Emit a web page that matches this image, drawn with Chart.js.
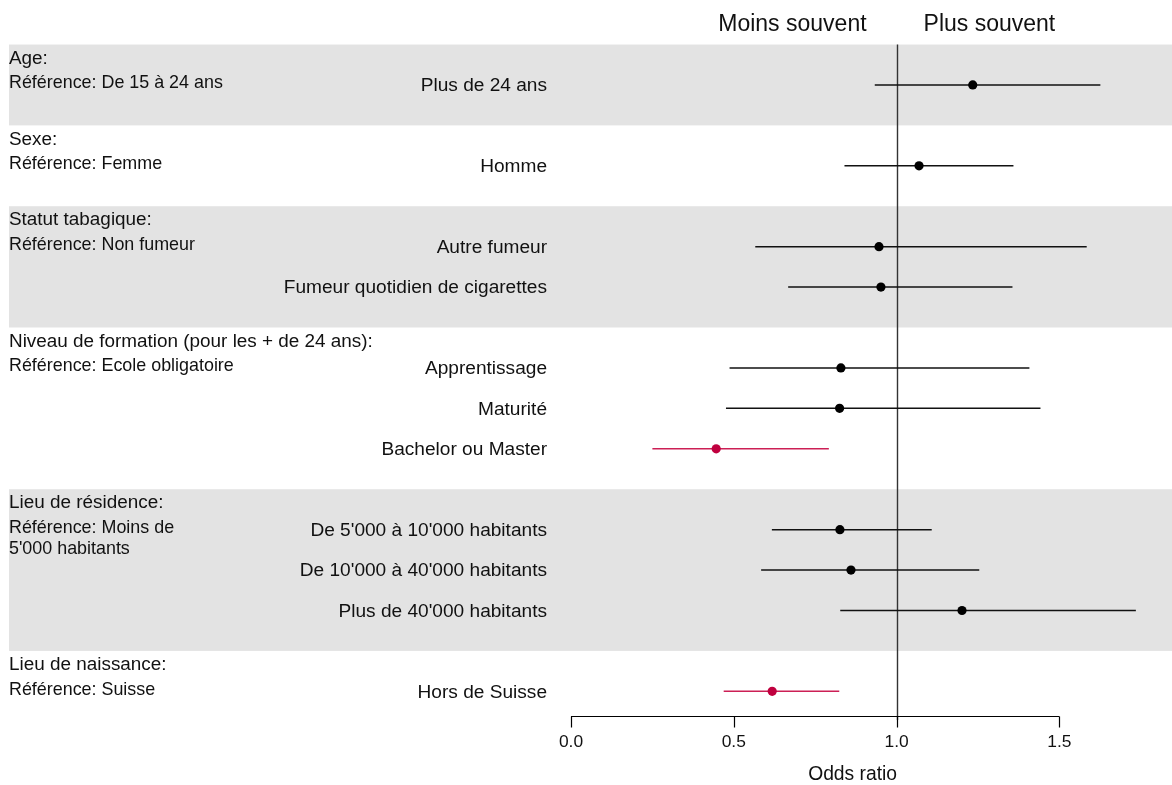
<!DOCTYPE html>
<html>
<head>
<meta charset="utf-8">
<script src="https://cdn.jsdelivr.net/npm/chart.js@4"></script>
<style>
  html, body { margin: 0; padding: 0; background: #fff; }
  #wrap { width: 1172px; height: 785px; position: relative; }
</style>
</head>
<body>
<div id="wrap"><canvas id="forest"></canvas></div>
<script>
// --- Données (odds ratios et intervalles de confiance) ---
const groupTitles = [
  'Age:',
  'Sexe:',
  'Statut tabagique:',
  'Niveau de formation (pour les + de 24 ans):',
  'Lieu de résidence:',
  'Lieu de naissance:'
];
const groupRefs = [
  ['Référence: De 15 à 24 ans'],
  ['Référence: Femme'],
  ['Référence: Non fumeur'],
  ['Référence: Ecole obligatoire'],
  ['Référence: Moins de', "5'000 habitants"],
  ['Référence: Suisse']
];
const groupSizes = [1, 1, 2, 3, 3, 1];
const groupShaded = [true, false, true, false, true, false];

const categories = [
  'Plus de 24 ans',
  'Homme',
  'Autre fumeur',
  'Fumeur quotidien de cigarettes',
  'Apprentissage',
  'Maturité',
  'Bachelor ou Master',
  "De 5'000 à 10'000 habitants",
  "De 10'000 à 40'000 habitants",
  "Plus de 40'000 habitants",
  'Hors de Suisse'
];
const oddsRatio = [1.234, 1.069, 0.946, 0.952, 0.829, 0.825, 0.446, 0.826, 0.860, 1.201, 0.618];
const ciLow     = [0.933, 0.840, 0.566, 0.667, 0.487, 0.476, 0.250, 0.617, 0.584, 0.827, 0.469];
const ciHigh    = [1.626, 1.359, 1.584, 1.356, 1.408, 1.442, 0.792, 1.108, 1.254, 1.735, 0.824];

const xTicks = [0, 0.5, 1, 1.5];
const xTickLabels = ['0.0', '0.5', '1.0', '1.5'];
const refValue = 1;

// --- Lignes: un groupe = ses catégories + une ligne vide (en-tête) ---
const rowOf = [];
const groupStart = [];
let cursor = 0;
groupSizes.forEach((n, g) => {
  groupStart.push(cursor);
  for (let i = 0; i < n; i++) rowOf.push(cursor + i);
  cursor += n + 1;
});

const FONT = '"Liberation Sans", Arial, sans-serif';
const TXT = '#111';
const RED_DOT = '#c0003f';
const RED_LINE = '#cc1f55';

const isSig = i => ciHigh[i] < refValue || ciLow[i] > refValue;

// Un dataset par intervalle de confiance
const ciDatasets = categories.map((c, i) => ({
  type: 'line',
  label: c,
  data: [{ x: ciLow[i], y: rowOf[i] }, { x: ciHigh[i], y: rowOf[i] }],
  borderColor: isSig(i) ? RED_LINE : '#111',
  borderWidth: 1.5,
  pointRadius: 0,
  order: 2
}));

const pointDataset = {
  type: 'scatter',
  label: 'Odds ratio',
  data: categories.map((c, i) => ({ x: oddsRatio[i], y: rowOf[i] })),
  backgroundColor: categories.map((c, i) => isSig(i) ? RED_DOT : '#000'),
  borderColor: categories.map((c, i) => isSig(i) ? RED_DOT : '#000'),
  pointRadius: 4.6,
  borderWidth: 0,
  order: 1
};

// Bandes grises + textes de gauche + axe
const forestPlugin = {
  id: 'forestDecor',
  beforeDatasetsDraw(chart) {
    const { ctx, scales: { x, y } } = chart;
    ctx.save();
    // bandes
    groupSizes.forEach((n, g) => {
      if (!groupShaded[g]) return;
      const top = y.getPixelForValue(groupStart[g] - 1);
      const bot = y.getPixelForValue(groupStart[g] + n);
      ctx.fillStyle = '#e3e3e3';
      ctx.fillRect(9, top, chart.width - 9, bot - top);
    });
    // ligne de référence (OR = 1)
    const xr = Math.round(x.getPixelForValue(refValue)) + 0.5;
    ctx.strokeStyle = '#333';
    ctx.lineWidth = 1.4;
    ctx.beginPath();
    ctx.moveTo(xr, y.getPixelForValue(-1));
    ctx.lineTo(xr, chart.chartArea.bottom + 4);
    ctx.stroke();
    ctx.restore();
  },
  afterDraw(chart) {
    const { ctx, scales: { x, y } } = chart;
    ctx.save();
    ctx.fillStyle = TXT;
    ctx.textBaseline = 'middle';

    // en-têtes des groupes
    groupSizes.forEach((n, g) => {
      const top = y.getPixelForValue(groupStart[g] - 1);
      ctx.textAlign = 'left';
      ctx.font = '18.9px ' + FONT;
      ctx.fillText(groupTitles[g], 9, top + 14);
      ctx.font = '17.9px ' + FONT;
      groupRefs[g].forEach((line, k) => ctx.fillText(line, 9, top + 39 + k * 21));
    });

    // libellés des catégories
    ctx.textAlign = 'right';
    ctx.font = '19.1px ' + FONT;
    categories.forEach((c, i) => ctx.fillText(c, 547, y.getPixelForValue(rowOf[i]) + 1));

    // titres du haut
    const xr = x.getPixelForValue(refValue);
    ctx.font = '23px ' + FONT;
    ctx.textAlign = 'right';
    ctx.fillText('Moins souvent', xr - 30, 25);
    ctx.textAlign = 'left';
    ctx.fillText('Plus souvent', xr + 27, 25);

    // axe des x
    const ay = Math.round(chart.chartArea.bottom) + 0.5;
    ctx.strokeStyle = '#000';
    ctx.lineWidth = 1.2;
    ctx.beginPath();
    ctx.moveTo(x.getPixelForValue(xTicks[0]), ay);
    ctx.lineTo(x.getPixelForValue(xTicks[xTicks.length - 1]), ay);
    xTicks.forEach(t => {
      const px = Math.round(x.getPixelForValue(t)) + 0.5;
      ctx.moveTo(px, ay);
      ctx.lineTo(px, ay + 11);
    });
    ctx.stroke();

    ctx.textAlign = 'center';
    ctx.font = '17.4px ' + FONT;
    xTicks.forEach((t, k) => ctx.fillText(xTickLabels[k], x.getPixelForValue(t), ay + 26));
    ctx.font = '19.3px ' + FONT;
    ctx.fillText('Odds ratio', x.getPixelForValue(0.865), ay + 58);
    ctx.restore();
  }
};

new Chart(document.getElementById('forest'), {
  data: { datasets: [...ciDatasets, pointDataset] },
  options: {
    responsive: true,
    maintainAspectRatio: false,
    animation: false,
    layout: { autoPadding: false, padding: { left: 571, right: 0, top: 44, bottom: 69 } },
    scales: {
      x: { type: 'linear', min: 0, max: 1.846, display: false },
      y: { type: 'linear', min: -1.013, max: 15.61, reverse: true, display: false }
    },
    plugins: {
      legend: { display: false },
      tooltip: { enabled: false }
    }
  },
  plugins: [forestPlugin]
});
</script>
</body>
</html>
